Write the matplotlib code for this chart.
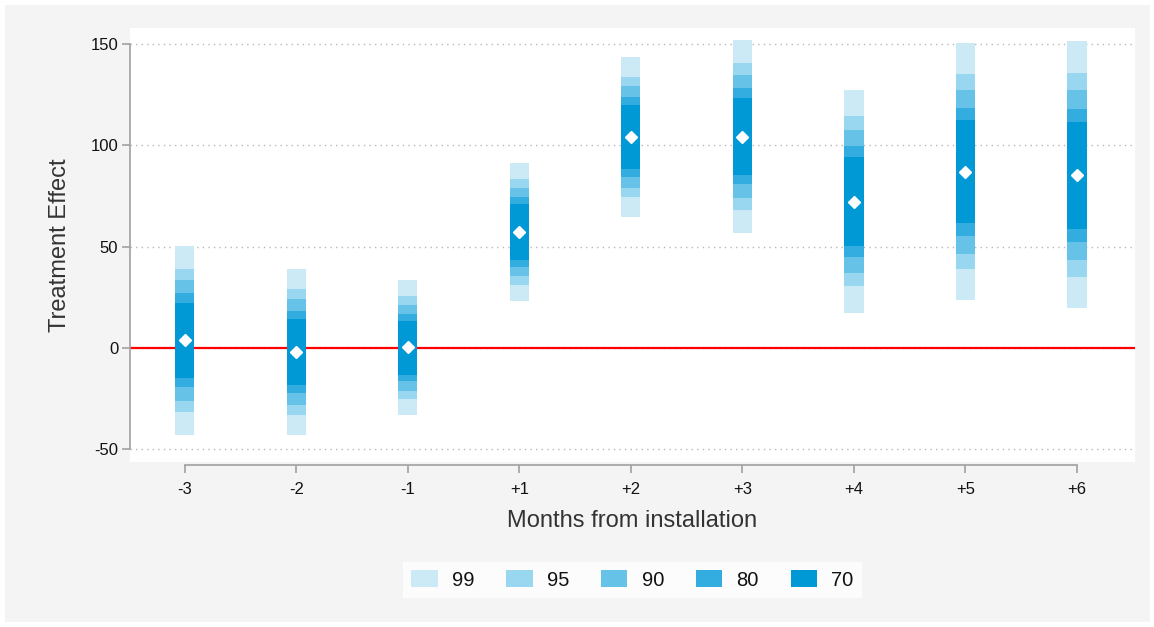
import matplotlib
matplotlib.use("Agg")
import matplotlib.pyplot as plt
from matplotlib.patches import Patch, Rectangle
import numpy as np

plt.rcParams['font.family'] = ['Liberation Sans', 'DejaVu Sans']
plt.rcParams['axes.unicode_minus'] = False

# Event-time categories and point estimates
periods = ["-3", "-2", "-1", "+1", "+2", "+3", "+4", "+5", "+6"]
estimate = [3.8, -2.1, 0.3, 57.2, 104.1, 104.2, 72.2, 86.8, 85.2]

# Confidence interval bounds by level
ci99_lo = [-42.8, -42.8, -33.0, 23.3, 64.8, 56.9, 17.4, 23.7, 19.6]
ci99_hi = [50.5, 38.8, 33.5, 91.4, 143.4, 151.9, 127.3, 150.3, 151.3]
ci95_lo = [-31.6, -33.0, -25.2, 31.2, 74.3, 68.1, 30.6, 38.8, 35.2]
ci95_hi = [39.1, 29.0, 25.7, 83.4, 133.8, 140.8, 114.5, 135.2, 135.5]
ci90_lo = [-26.0, -28.1, -21.0, 35.5, 78.9, 73.9, 37.2, 46.4, 43.4]
ci90_hi = [33.5, 24.0, 21.4, 78.9, 129.3, 134.8, 107.5, 127.3, 127.3]
ci80_lo = [-19.4, -22.4, -16.3, 40.1, 84.5, 80.8, 45.0, 55.4, 52.4]
ci80_hi = [27.0, 18.3, 16.8, 74.3, 123.7, 128.1, 99.7, 118.4, 118.1]
ci70_lo = [-14.8, -18.3, -13.2, 43.4, 88.3, 85.2, 50.3, 61.5, 58.7]
ci70_hi = [22.4, 14.3, 13.5, 71.0, 119.9, 123.5, 94.4, 112.5, 111.6]

levels = ["99", "95", "90", "80", "70"]
bounds = [(ci99_lo, ci99_hi), (ci95_lo, ci95_hi), (ci90_lo, ci90_hi),
          (ci80_lo, ci80_hi), (ci70_lo, ci70_hi)]
colors = ["#cce9f6", "#99d6ef", "#66c2e6", "#33addf", "#0099d6"]

fig = plt.figure(figsize=(11.54, 6.27), dpi=100)
fig.patch.set_facecolor("white")
fig.add_artist(Rectangle((5 / 1154, 5 / 627), 1145 / 1154, 617 / 627,
                         transform=fig.transFigure, facecolor="#f4f4f4",
                         edgecolor="none", zorder=-10))

ax = fig.add_axes([130 / 1154, 165 / 627, 1005 / 1154, 434 / 627])
ax.set_facecolor("white")

x = np.arange(len(periods))
for (lo, hi), col in zip(bounds, colors):
    lo = np.array(lo)
    hi = np.array(hi)
    ax.bar(x, hi - lo, bottom=lo, width=0.173, color=col, linewidth=0, zorder=3)

ax.axhline(0, color="#ff0000", linewidth=1.6, zorder=2)
ax.plot(x, estimate, linestyle="none", marker="D", markersize=6.5,
        markerfacecolor="white", markeredgecolor="white", zorder=5)

ax.set_xlim(-0.49, 8.52)
ax.set_ylim(-56.2, 157.9)
ax.set_yticks([-50, 0, 50, 100, 150])
ax.set_xticks(x)
ax.set_xticklabels(periods)

ax.yaxis.grid(True, linestyle=(0, (1, 3)), color="#b8b8b8", linewidth=1.0, zorder=1)
ax.set_axisbelow(True)

for s in ["top", "right"]:
    ax.spines[s].set_visible(False)
ax.spines["left"].set_bounds(-50, 150)
ax.spines["bottom"].set_bounds(0, 8)
ax.spines["bottom"].set_position(("outward", 2))
for s in ["left", "bottom"]:
    ax.spines[s].set_color("#a0a0a0")
    ax.spines[s].set_linewidth(1.2)

ax.tick_params(axis="both", direction="out", length=5.5, width=1.2,
               color="#a0a0a0", labelsize=12, labelcolor="#111111")
ax.tick_params(axis="y", pad=3)
ax.tick_params(axis="x", pad=7)

ax.set_ylabel("Treatment Effect", fontsize=17, color="#333333", labelpad=14)
ax.set_xlabel("Months from installation", fontsize=17, color="#333333", labelpad=9)

handles = [Patch(facecolor=c, edgecolor="none") for c in colors]
leg = fig.legend(handles, levels, loc="center", bbox_to_anchor=(632.5 / 1154, 47 / 627),
                 ncol=5, fontsize=14.5, frameon=True, fancybox=False,
                 handlelength=1.3, handleheight=0.93, handletextpad=0.7,
                 columnspacing=1.6, borderpad=0.42)
leg.get_frame().set_facecolor("white")
leg.get_frame().set_edgecolor("none")
for t in leg.get_texts():
    t.set_color("#111111")

fig.savefig("out.png", dpi=100, facecolor=fig.get_facecolor())
